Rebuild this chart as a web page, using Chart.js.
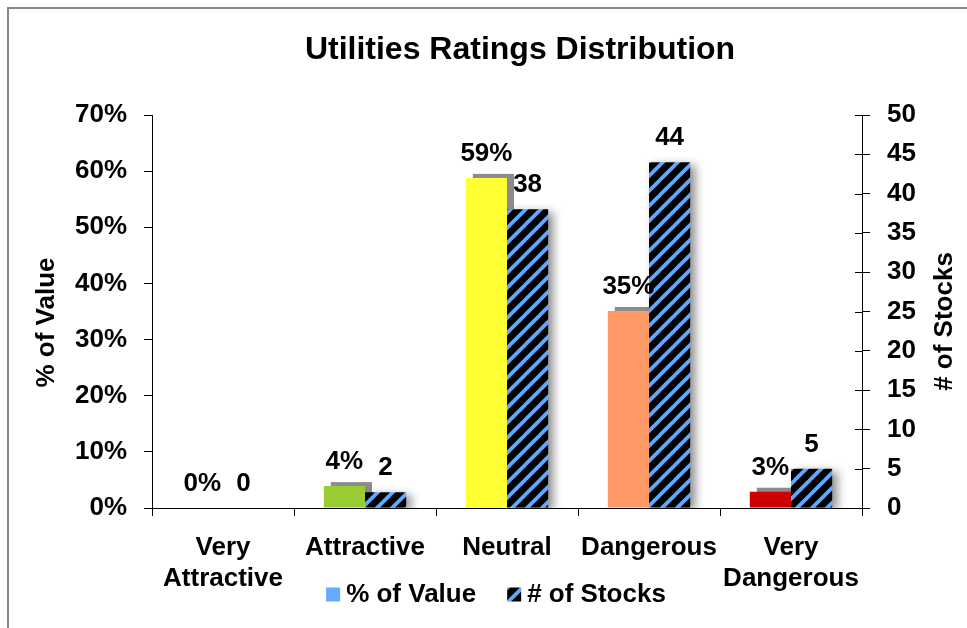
<!DOCTYPE html>
<html>
<head>
<meta charset="utf-8">
<title>Utilities Ratings Distribution</title>
<script src="https://cdn.jsdelivr.net/npm/chart.js@4/dist/chart.umd.min.js"></script>
<style>
  html, body { margin: 0; padding: 0; background: #fff; overflow: hidden; }
  canvas { display: block; }
</style>
</head>
<body>
<canvas id="ratingsChart" width="967" height="628"></canvas>
<script>
// ---- data ----
const categories = [["Very", "Attractive"], "Attractive", "Neutral", "Dangerous", ["Very", "Dangerous"]];
const pctOfValue = [0, 3.9, 58.8, 35.1, 2.9];
const numStocks = [0, 2, 38, 44, 5];
const pctTicks = { min: 0, max: 70, step: 10 };
const stockTicks = { min: 0, max: 50, step: 5 };
const ratingColors = ["#339933", "#99CC33", "#FFFF33", "#FF9966", "#CC0000"];

const FONT = 'Arial, "Liberation Sans", sans-serif';
const legendBlue = "#66AAFF";

/* hatch: negro con rayas azules "/" */
function makeHatch() {
  const size = 15;
  const c = document.createElement("canvas");
  c.width = size;
  c.height = size;
  const g = c.getContext("2d");
  g.fillStyle = "#000";
  g.fillRect(0, 0, size, size);
  g.strokeStyle = "#5EA8FF";
  g.lineWidth = 3.8;
  for (let k = -1; k <= 1; k++) {
    g.beginPath();
    g.moveTo(k * size - 1, size + 1);
    g.lineTo(k * size + size + 1, -1);
    g.stroke();
  }
  return g.createPattern(c, "repeat");
}

const ctx = document.getElementById("ratingsChart").getContext("2d");
const hatch = makeHatch();

Chart.defaults.font.family = FONT;
Chart.defaults.font.size = 26;
Chart.defaults.font.weight = "bold";
Chart.defaults.color = "#000";

// sombras, etiquetas, titulos, leyenda, borde
const decorations = {
  id: "decorations",
  beforeDraw(chart) {
    const c = chart.ctx;
    c.save();
    c.strokeStyle = "#868686";
    c.lineWidth = 2;
    c.strokeRect(8, 8, 2000, 2000);
    c.restore();
  },
  // sombra gris de las barras de % (antes de todas las series)
  beforeDatasetsDraw(chart) {
    const c = chart.ctx;
    c.save();
    c.fillStyle = "#8C8C8C";
    chart.getDatasetMeta(0).data.forEach((bar) => {
      const p = bar.getProps(["x", "y", "base", "width"], true);
      const h = p.base - p.y;
      if (h > 0) c.fillRect(p.x - p.width / 2 + 7, p.y - 4, p.width, h);
    });
    c.restore();
  },
  beforeDatasetDraw(chart, args) {
    if (args.index !== 1) return;
    const c = chart.ctx;
    c.save();
    c.shadowColor = "rgba(0,0,0,0.45)";
    c.shadowBlur = 10;
    c.shadowOffsetX = 5;
    c.shadowOffsetY = 3;
  },
  afterDatasetDraw(chart, args) {
    if (args.index === 1) chart.ctx.restore();
  },
  afterDatasetsDraw(chart) {
    const c = chart.ctx;
    c.save();
    c.font = "bold 26px " + FONT;
    c.fillStyle = "#000";
    c.textAlign = "center";
    c.textBaseline = "alphabetic";
    chart.data.datasets.forEach((ds, i) => {
      chart.getDatasetMeta(i).data.forEach((bar, j) => {
        const txt = i === 0 ? Math.round(ds.data[j]) + "%" : String(ds.data[j]);
        c.fillText(txt, bar.x, bar.y - 17);
      });
    });

    // marcas interiores del eje derecho
    const y1 = chart.scales.y1;
    const area = chart.chartArea;
    c.strokeStyle = "#000";
    c.lineWidth = 1;
    y1.ticks.forEach((t) => {
      const py = Math.round(y1.getPixelForValue(t.value)) + 0.5;
      c.beginPath();
      c.moveTo(area.right - 7, py);
      c.lineTo(area.right, py);
      c.stroke();
    });
    c.restore();
  },
  afterDraw(chart) {
    const c = chart.ctx;
    const area = chart.chartArea;
    const midY = (area.top + area.bottom) / 2;
    c.save();
    c.fillStyle = "#000";
    c.textAlign = "center";
    c.textBaseline = "middle";

    c.font = "bold 32px " + FONT;
    c.fillText("Utilities Ratings Distribution", (area.left + area.right) / 2 + 13, 50);

    c.font = "bold 26px " + FONT;
    c.save();
    c.translate(47, midY + 11);
    c.rotate(-Math.PI / 2);
    c.fillText("% of Value", 0, 0);
    c.restore();

    c.save();
    c.translate(945, midY + 10);
    c.rotate(-Math.PI / 2);
    c.fillText("# of Stocks", 0, 0);
    c.restore();

    // leyenda
    const fills = [legendBlue, hatch];
    const labels = chart.data.datasets.map((ds) => ds.label);
    const box = 14, gap = 6, itemGap = 31;
    const widths = labels.map((t) => c.measureText(t).width);
    const total = widths.reduce((a, w) => a + box + gap + w, 0) + itemGap * (labels.length - 1);
    let lx = 496 - total / 2;
    const ly = 594.5;
    c.textAlign = "left";
    labels.forEach((t, i) => {
      c.fillStyle = fills[i];
      c.fillRect(lx, ly - box / 2, box, box);
      c.fillStyle = "#000";
      c.fillText(t, lx + box + gap, ly);
      lx += box + gap + widths[i] + itemGap;
    });
    c.restore();
  },
};

new Chart(ctx, {
  type: "bar",
  data: {
    labels: categories,
    datasets: [
      {
        label: "% of Value",
        data: pctOfValue,
        backgroundColor: ratingColors,
        yAxisID: "y",
        categoryPercentage: 0.58,
        barPercentage: 1,
      },
      {
        label: "# of Stocks",
        data: numStocks,
        backgroundColor: hatch,
        yAxisID: "y1",
        categoryPercentage: 0.58,
        barPercentage: 1,
      },
    ],
  },
  options: {
    responsive: false,
    animation: false,
    devicePixelRatio: 1,
    layout: { padding: { top: 115, left: 25, right: 0, bottom: 0 } },
    plugins: {
      title: { display: false },
      tooltip: { enabled: false },
      legend: { display: false },
    },
    scales: {
      x: {
        grid: { display: true, drawOnChartArea: false, tickLength: 8, color: "#000" },
        border: { display: true, color: "#000", width: 1 },
        ticks: { padding: 16, maxRotation: 0, autoSkip: false, font: { size: 26, weight: "bold", lineHeight: 1.19 } },
        afterFit: (s) => { s.height = 120; },
      },
      y: {
        position: "left",
        min: pctTicks.min,
        max: pctTicks.max,
        grid: { display: true, drawOnChartArea: false, tickLength: 8, color: "#000" },
        border: { display: true, color: "#000", width: 1 },
        ticks: { stepSize: pctTicks.step, padding: 17, callback: (v) => v + "%" },
        afterFit: (s) => { s.width = 127; },
      },
      y1: {
        position: "right",
        min: stockTicks.min,
        max: stockTicks.max,
        grid: { display: true, drawOnChartArea: false, tickLength: 8, color: "#000" },
        border: { display: true, color: "#000", width: 1 },
        ticks: { stepSize: stockTicks.step, padding: 17 },
        afterFit: (s) => { s.width = 105; },
      },
    },
  },
  plugins: [decorations],
});
</script>
</body>
</html>
